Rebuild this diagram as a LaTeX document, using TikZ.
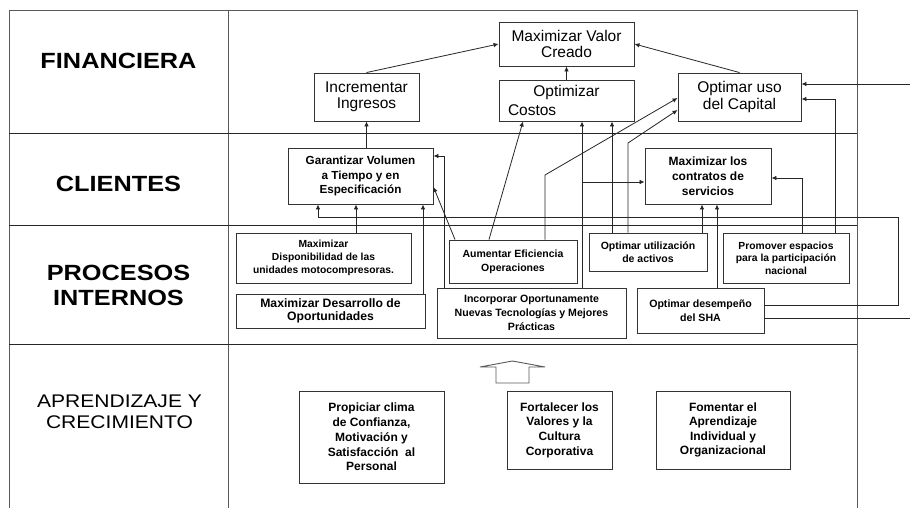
\documentclass[tikz,border=0pt]{standalone}
\usepackage{fontspec}
\setmainfont{Liberation Sans}
\newfontfamily\rowfont{Liberation Sans}[FakeStretch=1.15]
\usetikzlibrary{arrows.meta}
\newcommand{\setfs}[2]{\fontsize{#1}{#2}\selectfont}

\tikzset{
    frame/.style={draw=black!65, line width=0.9pt},
    sep/.style={draw=black!85, line width=0.9pt},
    box/.style={draw=black!80, line width=0.9pt, align=center, inner sep=1pt},
    fin/.style={box, font=\setfs{15.5}{16.5}},
    obj/.style 2 args={box, font=\bfseries\setfs{#1}{#2}},
    row/.style={align=center, font=\rowfont\bfseries\setfs{22}{25}},
    line/.style={draw=black!85, line width=0.8pt},
    arr/.style={line, -{Latex[length=5pt,width=4.5pt]}}
}

\begin{document}
\begin{tikzpicture}[x=1pt, y=-1pt]
    \useasboundingbox (0,0) rectangle (910,508);
    \fill[white] (0,0) rectangle (910,508);
    \draw[frame] (9,508) -- (9,10) -- (857,10) -- (857,508);
    \draw[frame] (228,10) -- (228,508);
    \foreach \y in {133,225,344}
        \draw[sep] (9,\y) -- (857,\y);

    \node[row] (rfin) at (118.5,61) {FINANCIERA};
    \node[row] (rcli) at (118.5,183.5) {CLIENTES};
    \node[row] (rpro) at (118.5,285) {PROCESOS\\INTERNOS};
    \node[row, font=\rowfont\setfs{18.3}{21}] (rapr) at (119.5,412) {APRENDIZAJE Y\\CRECIMIENTO};

    \node[fin, minimum width=135pt, minimum height=44pt] (valor) at (566.5,44) {Maximizar Valor\\Creado};
    \node[fin, minimum width=105pt, minimum height=48pt] (incr) at (366.5,97) {Incrementar\\Ingresos};
    \node[fin, align=left, font=\setfs{15.5}{19}, minimum width=135pt, minimum height=41pt] (costos) at (566.5,100.5) {\makebox[117pt]{Optimizar}\\Costos};
    \node[fin, minimum width=123pt, minimum height=48pt] (capital) at (739.5,97) {Optimar uso\\del Capital};

    \node[obj={11.7}{14.5}, minimum width=145pt, minimum height=56pt] (garant) at (360.5,176) {Garantizar Volumen\\a Tiempo y en\\Especificación};
    \node[obj={12}{15}, minimum width=126pt, minimum height=56pt] (contrat) at (708,176) {Maximizar los\\contratos de\\servicios};

    \node[obj={10.3}{12.8}, minimum width=175pt, minimum height=50pt] (dispon) at (323.5,258) {Maximizar\\Disponibilidad de las\\unidades motocompresoras.};
    \node[obj={12.2}{13.5}, minimum width=189pt, minimum height=34pt] (desarr) at (330.5,311) {Maximizar Desarrollo de\\Oportunidades};
    \node[obj={10.5}{14}, minimum width=128pt, minimum height=43pt] (aument) at (513,261.5) {Aumentar Eficiencia\\Operaciones};
    \node[obj={10.6}{14}, minimum width=189pt, minimum height=50pt] (incorp) at (531.5,313) {Incorporar Oportunamente\\Nuevas Tecnologías y Mejores\\Prácticas};
    \node[obj={10.5}{13}, minimum width=118pt, minimum height=38pt] (util) at (648,252) {Optimar utilización\\de activos};
    \node[obj={10.3}{12.5}, minimum width=126pt, minimum height=50pt] (promov) at (786,258) {Promover espacios\\para la participación\\nacional};
    \node[obj={10.6}{14}, minimum width=127pt, minimum height=45pt] (sha) at (700.5,310.5) {Optimar desempeño\\del SHA};

    \node[obj={12}{14.8}, minimum width=145pt, minimum height=92pt] (propic) at (371.5,437) {Propiciar clima\\de Confianza,\\Motivación y\\Satisfacción~ al\\Personal};
    \node[obj={12}{14.6}, minimum width=105pt, minimum height=78pt] (fortal) at (559.5,430) {Fortalecer los\\Valores y la\\Cultura\\Corporativa};
    \node[obj={12}{14.6}, minimum width=134pt, minimum height=78pt] (foment) at (723,430) {Fomentar el\\Aprendizaje\\Individual y\\Organizacional};

    \draw[frame, fill=white] (496,383) -- (496,367) -- (480,367) -- (512.5,361) -- (545,367) -- (529,367) -- (529,383) -- cycle;

    \coordinate (outA) at (910,318);
    \coordinate (outB) at (910,84);
    \coordinate (split) at (582,182);

    \draw[arr] (incr.north) -- (valor.west);
    \draw[arr] (costos.north) -- (valor.south);
    \draw[arr] (capital.north) -- (valor.east);
    \draw[arr] (garant.north -| incr.south) -- (incr.south);
    \draw[arr] (aument.north -| 489,0) -- (costos.south -| 523,0);
    \draw[arr] (aument.north -| 455,0) -- (garant.east |- 0,187);
    \draw[arr] (incorp.north -| 444,0) |- (garant.east |- 0,156);
    \draw[arr] (desarr.north -| 423,0) -- (garant.south -| 423,0);
    \draw[arr] (dispon.north -| 356,0) -- (garant.south -| 356,0);
    \draw[arr] (sha.east |- 0,305) -| (898,217) -| (garant.south -| 318,0);
    \draw[line] (sha.east |- outA) -- (outA);
    \draw[arr] (outB) -- (capital.east |- outB);
    \draw[arr] (promov.north -| 835,0) |- (capital.east |- 0,99);
    \draw[arr] (promov.north -| 802,0) |- (contrat.east |- 0,178);
    \draw[arr] (util.north -| 702,0) -- (contrat.south -| 702,0);
    \draw[arr] (sha.north -| 717,0) -- (contrat.south -| 717,0);
    \draw[arr] (incorp.north -| split) -- (costos.south -| split);
    \draw[arr] (split) -- (contrat.west |- split);
    \draw[arr] (util.north -| 612,0) -- (costos.south -| 612,0);
    \draw[arr] (aument.north -| 545,0) -- (545,175) -- (capital.west |- 0,98);
    \draw[arr] (util.north -| 628,0) -- (628,143) -- (capital.west |- 0,110);
\end{tikzpicture}
\end{document}
